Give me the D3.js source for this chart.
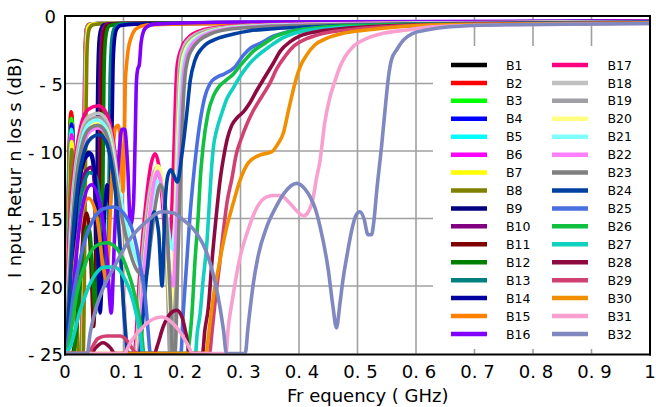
<!DOCTYPE html>
<html><head><meta charset="utf-8">
<script src="https://cdn.jsdelivr.net/npm/d3@7"></script>
<style>body{margin:0;background:#fff} svg{display:block} text{font-family:"DejaVu Sans",sans-serif;fill:#000}</style>
</head><body><svg id="c" width="656" height="407"></svg>
<script>
// ---------- data: [frequency GHz, return loss dB] ----------
const B1=[[0,-25],[0.004,-18],[0.0075,-10],[0.0105,-7.3],[0.0125,-8],[0.015,-11.5],[0.018,-18],[0.021,-25],[0.029,-25],[0.032,-15],[0.0335,-7],[0.0348,-3],[0.036,-1.4],[0.038,-0.8],[0.043,-0.62],[0.07,-0.55],[0.3,-0.5],[0.7,-0.45],[1,-0.4]];
const B2=[[0,-25],[0.0035,-18],[0.007,-10],[0.0105,-7.1],[0.0128,-8],[0.0155,-11.5],[0.0185,-18],[0.0215,-25],[0.028,-25],[0.031,-15],[0.0328,-7],[0.034,-3],[0.0355,-1.4],[0.0375,-0.8],[0.042,-0.6],[0.07,-0.54],[0.3,-0.5],[0.7,-0.44],[1,-0.4]];
const B3=[[0,-25],[0.004,-18],[0.0075,-10.5],[0.0108,-7.6],[0.013,-8.5],[0.0155,-12],[0.0185,-18.5],[0.0215,-25],[0.029,-25],[0.032,-15],[0.0338,-7],[0.035,-3],[0.0365,-1.4],[0.0385,-0.8],[0.044,-0.6],[0.07,-0.54],[0.3,-0.49],[0.7,-0.44],[1,-0.4]];
const B4=[[0,-25],[0.0045,-18],[0.008,-11],[0.011,-8.0],[0.0133,-8.9],[0.016,-12.5],[0.019,-19],[0.022,-25],[0.0295,-25],[0.0325,-15],[0.0343,-7],[0.0355,-3],[0.037,-1.4],[0.039,-0.8],[0.045,-0.6],[0.07,-0.54],[0.3,-0.49],[0.7,-0.44],[1,-0.4]];
const B5=[[0,-25],[0.004,-19],[0.0078,-11.5],[0.0108,-8.4],[0.013,-9.2],[0.0158,-13],[0.0188,-19.5],[0.0218,-25],[0.029,-25],[0.032,-15],[0.0335,-7],[0.0347,-3],[0.0362,-1.4],[0.0382,-0.8],[0.044,-0.6],[0.07,-0.54],[0.3,-0.49],[0.7,-0.44],[1,-0.4]];
const B6=[[0,-25],[0.0045,-19],[0.0082,-12],[0.0112,-8.8],[0.0135,-9.6],[0.0162,-13.5],[0.0192,-20],[0.0222,-25],[0.0295,-25],[0.0325,-15],[0.034,-7],[0.0352,-3],[0.0368,-1.4],[0.0388,-0.8],[0.045,-0.6],[0.07,-0.54],[0.3,-0.49],[0.7,-0.44],[1,-0.4]];
const B7=[[0,-25],[0.0045,-19.5],[0.0082,-12.5],[0.0112,-9.3],[0.0135,-10.1],[0.0165,-14],[0.0195,-20.5],[0.0225,-25],[0.03,-25],[0.033,-15],[0.0347,-7],[0.036,-3],[0.0376,-1.4],[0.0396,-0.8],[0.046,-0.6],[0.07,-0.54],[0.3,-0.49],[0.7,-0.44],[1,-0.4]];
const B8=[[0,-25],[0.0045,-20],[0.0085,-13],[0.0115,-9.9],[0.014,-10.8],[0.017,-15],[0.02,-21],[0.023,-25],[0.031,-25],[0.0342,-15],[0.036,-7],[0.0373,-3.2],[0.039,-1.6],[0.042,-0.9],[0.048,-0.65],[0.07,-0.56],[0.3,-0.5],[0.7,-0.45],[1,-0.4]];
const B9=[[0,-25],[0.006,-22],[0.013,-17],[0.021,-13.2],[0.031,-10.9],[0.041,-10.1],[0.047,-10.7],[0.051,-13],[0.0535,-19],[0.0548,-14],[0.0555,-7],[0.057,-3],[0.059,-1.5],[0.062,-0.9],[0.067,-0.65],[0.09,-0.56],[0.3,-0.5],[0.7,-0.45],[1,-0.4]];
const B10=[[0,-25],[0.007,-22],[0.015,-16.5],[0.025,-13],[0.036,-11.5],[0.045,-11.2],[0.051,-12.5],[0.055,-16],[0.0575,-21],[0.059,-12],[0.0598,-6],[0.061,-3],[0.063,-1.5],[0.066,-0.85],[0.072,-0.62],[0.1,-0.55],[0.3,-0.5],[0.7,-0.44],[1,-0.4]];
const B11=[[0,-25],[0.012,-25],[0.02,-23],[0.028,-18],[0.033,-15.3],[0.037,-14.6],[0.041,-15.5],[0.045,-19],[0.049,-23],[0.053,-18],[0.057,-14.5],[0.06,-15],[0.062,-10],[0.063,-5],[0.065,-2.3],[0.068,-1.1],[0.073,-0.7],[0.09,-0.58],[0.3,-0.5],[0.7,-0.45],[1,-0.4]];
const B12=[[0,-25],[0.014,-25],[0.022,-22],[0.03,-17.5],[0.035,-16],[0.039,-15.6],[0.043,-16.2],[0.048,-19.5],[0.052,-22],[0.057,-17],[0.061,-15],[0.064,-16],[0.0655,-9],[0.0665,-5],[0.068,-2.5],[0.071,-1.2],[0.076,-0.72],[0.095,-0.58],[0.3,-0.5],[0.7,-0.45],[1,-0.4]];
const B13=[[0,-25],[0.008,-22],[0.018,-16],[0.03,-12.8],[0.042,-11.6],[0.052,-11.8],[0.06,-13.8],[0.066,-17],[0.071,-20],[0.074,-16],[0.076,-10],[0.077,-5],[0.079,-2.4],[0.082,-1.2],[0.087,-0.75],[0.1,-0.6],[0.3,-0.5],[0.7,-0.45],[1,-0.4]];
const B14=[[0,-25],[0.01,-20],[0.022,-13],[0.035,-10.5],[0.045,-10.2],[0.053,-13],[0.06,-22],[0.066,-16],[0.072,-12.5],[0.077,-14],[0.0805,-8],[0.082,-4],[0.084,-2],[0.088,-1],[0.095,-0.7],[0.12,-0.6],[0.4,-0.5],[1,-0.42]];
const B15=[[0,-25],[0.01,-21],[0.025,-15.5],[0.04,-13.5],[0.055,-15],[0.065,-18.5],[0.071,-19.6],[0.077,-15],[0.082,-10],[0.087,-8.2],[0.091,-8.1],[0.095,-9.5],[0.099,-13],[0.101,-11],[0.103,-5],[0.105,-3.7],[0.108,-2.5],[0.114,-1.5],[0.122,-0.92],[0.14,-0.67],[0.2,-0.58],[0.5,-0.5],[1,-0.42]];
const B16=[[0,-25],[0.012,-21],[0.028,-14.5],[0.045,-12.5],[0.06,-14],[0.072,-18],[0.079,-22],[0.085,-16],[0.092,-10.5],[0.097,-8.4],[0.102,-8.4],[0.107,-11],[0.112,-15.5],[0.117,-14],[0.12,-9],[0.122,-5],[0.124,-4.0],[0.127,-3.6],[0.13,-2.0],[0.134,-1.16],[0.14,-0.8],[0.153,-0.6],[0.3,-0.45],[1,-0.35]];
const B17=[[0,-25],[0.004,-20],[0.01,-14],[0.018,-10.5],[0.028,-8],[0.04,-6.9],[0.057,-6.65],[0.068,-7.0],[0.077,-8.0],[0.085,-10],[0.093,-14],[0.1,-20],[0.106,-25],[0.118,-25],[0.128,-19],[0.138,-14],[0.147,-11],[0.154,-10.2],[0.16,-11],[0.166,-13.5],[0.172,-16.5],[0.178,-17],[0.183,-14],[0.187,-9],[0.189,-6],[0.192,-3.6],[0.2,-2.3],[0.211,-1.6],[0.231,-1.1],[0.259,-0.85],[0.288,-0.72],[0.4,-0.6],[0.6,-0.5],[1,-0.4]];
const B18=[[0,-25],[0.005,-20],[0.011,-14.5],[0.019,-10.8],[0.029,-8.4],[0.042,-7.4],[0.057,-7.2],[0.069,-7.6],[0.078,-8.6],[0.086,-10.8],[0.094,-15],[0.101,-21],[0.107,-25],[0.12,-25],[0.13,-19],[0.14,-14.5],[0.15,-11.8],[0.158,-11.2],[0.165,-12.3],[0.171,-15.5],[0.176,-20],[0.18,-25],[0.184,-22],[0.188,-15],[0.191,-9],[0.194,-5],[0.197,-3.2],[0.204,-2.2],[0.215,-1.6],[0.235,-1.15],[0.265,-0.88],[0.3,-0.75],[0.4,-0.62],[0.6,-0.52],[1,-0.42]];
const B19=[[0,-25],[0.005,-21],[0.012,-15],[0.02,-11.2],[0.03,-8.8],[0.043,-7.7],[0.056,-7.5],[0.068,-7.9],[0.077,-9],[0.085,-11.3],[0.093,-15.5],[0.1,-21.5],[0.106,-25],[0.122,-25],[0.132,-19],[0.142,-14.8],[0.152,-12.3],[0.16,-11.7],[0.167,-12.8],[0.172,-16],[0.176,-21],[0.179,-25],[0.184,-25],[0.188,-18],[0.192,-11],[0.195,-6],[0.198,-3.6],[0.205,-2.4],[0.217,-1.7],[0.238,-1.2],[0.268,-0.9],[0.3,-0.78],[0.4,-0.64],[0.6,-0.53],[1,-0.43]];
const B20=[[0,-25],[0.005,-21],[0.012,-15.5],[0.021,-11.6],[0.031,-9.2],[0.044,-8.1],[0.058,-7.9],[0.07,-8.3],[0.079,-9.5],[0.087,-11.8],[0.095,-16],[0.102,-22],[0.108,-25],[0.122,-25],[0.133,-19.5],[0.143,-15],[0.152,-12.2],[0.159,-11.1],[0.165,-11.8],[0.17,-14],[0.175,-18],[0.18,-22],[0.185,-19],[0.19,-13],[0.194,-8],[0.197,-5],[0.2,-3.5],[0.207,-2.4],[0.219,-1.75],[0.24,-1.25],[0.27,-0.93],[0.3,-0.8],[0.4,-0.65],[0.6,-0.54],[1,-0.43]];
const B21=[[0,-25],[0.005,-21],[0.012,-15.2],[0.02,-11.5],[0.03,-9],[0.043,-7.9],[0.055,-7.7],[0.067,-8.1],[0.076,-9.2],[0.085,-11.2],[0.095,-13.5],[0.105,-15.5],[0.118,-17.5],[0.133,-18.7],[0.142,-16],[0.151,-13.2],[0.159,-12.2],[0.167,-12.9],[0.175,-15.2],[0.181,-17],[0.185,-17.3],[0.19,-14.5],[0.195,-9],[0.199,-5],[0.203,-3.4],[0.21,-2.4],[0.222,-1.75],[0.243,-1.25],[0.273,-0.93],[0.3,-0.82],[0.4,-0.66],[0.6,-0.55],[1,-0.44]];
const B22=[[0,-25],[0.005,-21.5],[0.012,-16],[0.021,-12],[0.031,-9.6],[0.044,-8.5],[0.057,-8.3],[0.069,-8.7],[0.078,-9.9],[0.086,-12.2],[0.094,-16.5],[0.101,-22],[0.107,-25],[0.124,-25],[0.134,-19.5],[0.144,-15],[0.152,-12.3],[0.158,-11.5],[0.165,-12.5],[0.172,-15.5],[0.179,-19],[0.185,-20],[0.19,-16],[0.195,-11],[0.199,-7],[0.202,-4.6],[0.206,-3.3],[0.213,-2.4],[0.225,-1.78],[0.246,-1.27],[0.276,-0.95],[0.3,-0.85],[0.4,-0.67],[0.6,-0.56],[1,-0.45]];
const B23=[[0,-25],[0.005,-21.5],[0.012,-16],[0.02,-11.8],[0.03,-9.4],[0.043,-8.3],[0.056,-8.1],[0.068,-8.5],[0.077,-9.8],[0.086,-12],[0.096,-14.6],[0.108,-17],[0.124,-18.9],[0.138,-19.3],[0.147,-16.5],[0.156,-13.6],[0.163,-12.5],[0.17,-13.5],[0.176,-17],[0.181,-22],[0.184,-25],[0.188,-25],[0.193,-18],[0.198,-11],[0.202,-6.5],[0.205,-4.5],[0.21,-3.2],[0.218,-2.4],[0.23,-1.8],[0.25,-1.3],[0.28,-0.98],[0.32,-0.84],[0.4,-0.7],[0.6,-0.57],[1,-0.46]];
const B24=[[0,-25],[0.006,-22],[0.013,-16.5],[0.022,-12.5],[0.033,-10],[0.046,-9],[0.058,-8.8],[0.07,-9.3],[0.078,-10.6],[0.086,-13],[0.094,-17],[0.101,-22],[0.108,-25],[0.125,-25],[0.14,-19],[0.152,-14.5],[0.16,-16],[0.166,-20],[0.171,-14],[0.176,-11.8],[0.181,-11.4],[0.186,-11.8],[0.192,-12.3],[0.2,-10.2],[0.208,-7.3],[0.214,-4.8],[0.222,-3.3],[0.236,-2.3],[0.259,-1.7],[0.288,-1.34],[0.316,-1.09],[0.35,-0.96],[0.45,-0.75],[0.6,-0.6],[1,-0.45]];
const B25=[[0,-25],[0.003,-24.6],[0.014,-20.8],[0.031,-17.1],[0.048,-15.1],[0.065,-14.3],[0.083,-14.15],[0.1,-14.6],[0.117,-16.1],[0.128,-18.35],[0.137,-20.8],[0.142,-23.3],[0.146,-25],[0.198,-25],[0.202,-22.05],[0.208,-18.3],[0.214,-14.6],[0.219,-12.2],[0.225,-9.75],[0.231,-7.8],[0.239,-6.0],[0.248,-5.0],[0.259,-4.55],[0.272,-4.3],[0.29,-3.8],[0.305,-2.9],[0.318,-2.35],[0.333,-2.05],[0.356,-1.5],[0.396,-1.05],[0.447,-0.84],[0.516,-0.74],[0.7,-0.6],[1,-0.5]];
const B26=[[0,-25],[0.005,-24.6],[0.02,-20.6],[0.037,-18.1],[0.054,-17.0],[0.071,-16.8],[0.088,-17.2],[0.105,-18.6],[0.12,-20.8],[0.131,-23.5],[0.135,-25],[0.209,-25],[0.211,-24.6],[0.217,-22.05],[0.222,-18.3],[0.228,-14.6],[0.231,-12.2],[0.236,-9.7],[0.244,-7.3],[0.254,-5.9],[0.262,-5.3],[0.274,-4.8],[0.288,-4.3],[0.299,-3.7],[0.311,-3.1],[0.322,-2.6],[0.339,-2.1],[0.356,-1.6],[0.385,-1.16],[0.419,-0.92],[0.47,-0.74],[0.6,-0.62],[1,-0.5]];
const B27=[[0,-25],[0.008,-24.6],[0.026,-21.8],[0.048,-19.4],[0.068,-18.6],[0.085,-18.6],[0.1,-19.3],[0.117,-21.2],[0.128,-23.4],[0.133,-25],[0.223,-25],[0.226,-23.5],[0.231,-22.05],[0.236,-19.6],[0.242,-17.1],[0.248,-13.0],[0.251,-11.0],[0.254,-9.6],[0.259,-8.5],[0.268,-7.2],[0.276,-6.2],[0.288,-5.3],[0.302,-4.3],[0.316,-3.5],[0.333,-2.8],[0.35,-2.25],[0.373,-1.6],[0.402,-1.16],[0.447,-0.92],[0.516,-0.8],[0.7,-0.62],[1,-0.52]];
const B28=[[0,-25],[0.045,-25],[0.052,-24.6],[0.065,-24.2],[0.078,-24.6],[0.085,-25],[0.153,-25],[0.158,-24.4],[0.168,-23.0],[0.18,-22.05],[0.191,-21.8],[0.2,-22.3],[0.208,-23.8],[0.213,-25],[0.235,-25],[0.239,-23.3],[0.245,-21.6],[0.251,-18.3],[0.259,-14.6],[0.265,-12.2],[0.271,-10.5],[0.278,-9.0],[0.285,-8.1],[0.295,-7.5],[0.305,-7.1],[0.315,-6.5],[0.328,-5.5],[0.342,-4.5],[0.356,-3.5],[0.368,-2.6],[0.385,-1.9],[0.402,-1.48],[0.43,-1.16],[0.476,-0.92],[0.544,-0.74],[0.7,-0.6],[1,-0.5]];
const B29=[[0,-25],[0.04,-25],[0.047,-24.5],[0.056,-23.9],[0.071,-23.7],[0.094,-23.7],[0.105,-24.0],[0.113,-24.5],[0.123,-25],[0.247,-25],[0.251,-23.5],[0.257,-21],[0.264,-18.5],[0.27,-16.2],[0.277,-13.8],[0.285,-12.1],[0.293,-10.2],[0.302,-9.0],[0.311,-8.0],[0.322,-7.0],[0.336,-6.0],[0.35,-5.0],[0.362,-3.9],[0.376,-3.0],[0.392,-2.2],[0.412,-1.7],[0.44,-1.3],[0.49,-1.0],[0.55,-0.8],[0.65,-0.65],[1,-0.52]];
const B30=[[0,-25],[0.241,-25],[0.246,-23.4],[0.253,-21],[0.263,-18.5],[0.274,-16.1],[0.288,-13.8],[0.299,-12.2],[0.313,-10.9],[0.333,-10.3],[0.353,-10.07],[0.365,-9.4],[0.373,-8.7],[0.382,-7.0],[0.393,-5.0],[0.402,-3.76],[0.413,-2.9],[0.427,-2.15],[0.447,-1.66],[0.476,-1.28],[0.516,-1.04],[0.573,-0.8],[0.629,-0.67],[0.8,-0.58],[1,-0.52]];
const B31=[[0,-25],[0.103,-25],[0.108,-24.5],[0.118,-23.8],[0.128,-23.3],[0.145,-22.6],[0.166,-22.3],[0.18,-22.6],[0.195,-23.3],[0.208,-24.2],[0.219,-25],[0.275,-25],[0.279,-23.1],[0.287,-20.8],[0.299,-17.9],[0.311,-16.1],[0.328,-14.2],[0.345,-13.4],[0.358,-13.3],[0.368,-13.3],[0.385,-13.9],[0.4,-14.6],[0.408,-14.8],[0.416,-14.5],[0.424,-13.5],[0.43,-12],[0.436,-10.7],[0.444,-7.9],[0.453,-6.0],[0.462,-4.75],[0.47,-3.76],[0.479,-3.0],[0.492,-2.3],[0.516,-1.66],[0.544,-1.28],[0.584,-1.04],[0.629,-0.8],[0.75,-0.65],[1,-0.55]];
const B32=[[0,-25],[0.038,-25],[0.043,-23.5],[0.052,-21.8],[0.065,-20.2],[0.085,-18.5],[0.11,-16.6],[0.14,-15.2],[0.165,-14.5],[0.185,-14.6],[0.202,-15.1],[0.225,-16.1],[0.242,-17.5],[0.256,-19.6],[0.265,-21.6],[0.271,-23.3],[0.276,-25],[0.308,-25],[0.313,-23],[0.322,-19.8],[0.33,-17.8],[0.345,-15.6],[0.36,-14.2],[0.375,-13.1],[0.396,-12.4],[0.41,-12.8],[0.419,-13.4],[0.428,-14.3],[0.436,-15.6],[0.45,-18.8],[0.458,-21.5],[0.464,-23.1],[0.47,-21.3],[0.475,-19.6],[0.483,-17.5],[0.49,-15.9],[0.497,-14.8],[0.504,-14.5],[0.511,-15.0],[0.518,-16.2],[0.524,-16.2],[0.528,-15.2],[0.533,-12.9],[0.541,-9.7],[0.547,-7.0],[0.553,-4.5],[0.558,-3.26],[0.567,-2.5],[0.578,-1.8],[0.595,-1.28],[0.618,-1.04],[0.658,-0.8],[0.75,-0.65],[1,-0.55]];

const seriesNames=["B1","B2","B3","B4","B5","B6","B7","B8","B9","B10","B11","B12","B13","B14","B15","B16","B17","B18","B19","B20","B21","B22","B23","B24","B25","B26","B27","B28","B29","B30","B31","B32"];
const seriesValues=[B1,B2,B3,B4,B5,B6,B7,B8,B9,B10,B11,B12,B13,B14,B15,B16,B17,B18,B19,B20,B21,B22,B23,B24,B25,B26,B27,B28,B29,B30,B31,B32];
const seriesColors=["#000000","#ff0000","#00ff00","#0000ff","#00ffff","#ff00ff","#ffff00","#808000","#000080","#800080","#800000","#008000","#008080","#0000a0","#ff8000","#8000ff","#ff0080","#c0c0c0","#a0a0a4","#ffff80","#80ffff","#ff80ff","#808080","#0040a0","#4a6fe0","#10c040","#10d0c0","#8c0a40","#d04070","#f09000","#f8a0d0","#8088c0"];
const xTicks=[0,0.1,0.2,0.3,0.4,0.5,0.6,0.7,0.8,0.9,1];
const xTickLabels=["0","0. 1","0. 2","0. 3","0. 4","0. 5","0. 6","0. 7","0. 8","0. 9","1"];
const yTicks=[0,-5,-10,-15,-20,-25];
const yTickLabels=["0","- 5","- 10","- 15","- 20","- 25"];
const xTitle="Fr equency ( GHz)";
const yTitle="I nput Retur n los s (dB)";

// ---------- drawing ----------
const svg=d3.select("#c");
const L=65,R=650,T=16,B=353.5;
const x=d3.scaleLinear().domain([0,1]).range([L,R]);
const y=d3.scaleLinear().domain([-25,0]).range([B,T]);

svg.append("defs").append("clipPath").attr("id","clip")
  .append("rect").attr("x",L).attr("y",T).attr("width",R-L).attr("height",B-T);

const grid=svg.append("g");
grid.selectAll("line.v").data(xTicks.slice(1,-1)).join("line")
  .attr("x1",d=>x(d)).attr("x2",d=>x(d)).attr("y1",T).attr("y2",B)
  .attr("stroke","#a0a0a0").attr("stroke-width",1.6);
grid.selectAll("line.h").data(yTicks.slice(1,-1)).join("line")
  .attr("x1",L).attr("x2",R).attr("y1",d=>y(d)).attr("y2",d=>y(d))
  .attr("stroke","#a0a0a0").attr("stroke-width",1.6);

const line=d3.line().x(d=>x(d[0])).y(d=>y(d[1])).curve(d3.curveMonotoneX);
const plot=svg.append("g").attr("clip-path","url(#clip)");
seriesValues.forEach((vals,i)=>{
  plot.append("path").attr("d",line(vals)).attr("fill","none")
    .attr("stroke",seriesColors[i]).attr("stroke-width",3.6)
    .attr("stroke-linejoin","round").attr("stroke-linecap","round");
});

// legend
const lg=svg.append("g");
lg.append("rect").attr("x",433).attr("y",46).attr("width",216).attr("height",303).attr("fill","#fff");
seriesNames.forEach((n,i)=>{
  const col=Math.floor(i/16), row=i%16;
  const ly=65+row*17.93;
  const lx=col?552:451;
  lg.append("line").attr("x1",lx).attr("x2",lx+36).attr("y1",ly).attr("y2",ly)
    .attr("stroke",seriesColors[i]).attr("stroke-width",4.5);
  lg.append("text").attr("x",col?607.5:506).attr("y",ly+4.6).attr("font-size",12.5).text(n);
});

// frame
const fr=svg.append("g").attr("stroke","#000").attr("stroke-width",2).attr("fill","none");
fr.append("line").attr("x1",L).attr("x2",L).attr("y1",T-1).attr("y2",B+2);
fr.append("line").attr("x1",L-1).attr("x2",R+1).attr("y1",T).attr("y2",T);
fr.append("line").attr("x1",R).attr("x2",R).attr("y1",T-1).attr("y2",B+2);
fr.append("line").attr("x1",L-1).attr("x2",R+1).attr("y1",B+1).attr("y2",B+1);

// tick labels
svg.selectAll("text.xt").data(xTicks).join("text")
  .attr("x",(d,i)=>x(d)+(xTickLabels[i].length>1?3:0)).attr("y",378)
  .attr("text-anchor","middle").attr("font-size",18).text((d,i)=>xTickLabels[i]);
svg.selectAll("text.yt").data(yTicks).join("text")
  .attr("x",d=>d===0?56:63).attr("y",d=>y(d)+(d===0?7:7.5))
  .attr("text-anchor","end").attr("font-size",18).text((d,i)=>yTickLabels[i]);

svg.append("text").attr("x",287).attr("y",402).attr("font-size",18).text(xTitle);
svg.append("text").attr("transform","translate(21,278) rotate(-90)").attr("font-size",18).attr("letter-spacing",0.3).text(yTitle);
</script></body></html>
